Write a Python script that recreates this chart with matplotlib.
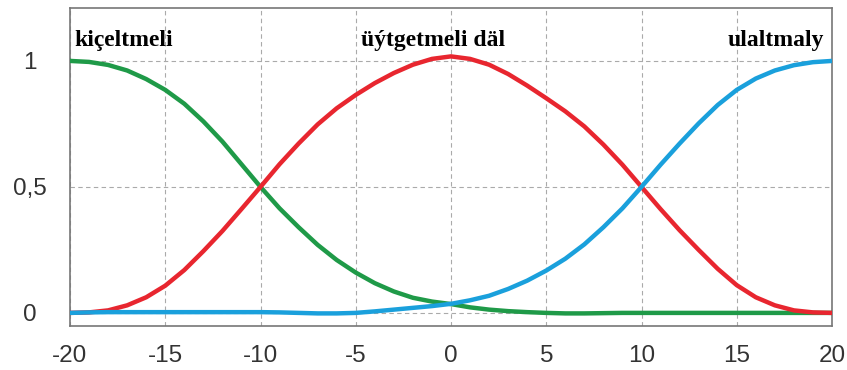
import numpy as np
import matplotlib.pyplot as plt

# x positions (one value per unit)
x = list(range(-20, 21))

# kiçeltmeli (green, decreasing)
kiceltmeli = [1.00, 0.996, 0.984, 0.962, 0.928, 0.885, 0.83, 0.76, 0.68, 0.59,
              0.50, 0.415, 0.34, 0.27, 0.21, 0.16, 0.118, 0.085, 0.06, 0.045,
              0.035, 0.022, 0.013, 0.007, 0.003, 0.0, -0.002, -0.002, -0.001, 0.0,
              0.0, 0.0, 0.0, 0.0, 0.0, 0.0, 0.0, 0.0, 0.0, 0.0, 0.0]

# üýtgetmeli däl (red, bell)
uytgetmeli_dal = [0.0, 0.002, 0.01, 0.03, 0.062, 0.108, 0.17, 0.245, 0.325, 0.412,
                  0.50, 0.59, 0.672, 0.748, 0.812, 0.865, 0.912, 0.952, 0.985, 1.008,
                  1.018, 1.008, 0.985, 0.948, 0.902, 0.852, 0.80, 0.74, 0.668, 0.588,
                  0.50, 0.412, 0.328, 0.25, 0.175, 0.11, 0.062, 0.03, 0.01, 0.002, 0.0]

# ulaltmaly (blue, increasing)
ulaltmaly = [0.0, 0.002, 0.003, 0.003, 0.003, 0.003, 0.003, 0.003, 0.003, 0.003,
             0.003, 0.002, 0.0, -0.002, -0.002, 0.0, 0.006, 0.013, 0.02, 0.027,
             0.036, 0.05, 0.068, 0.095, 0.128, 0.168, 0.215, 0.272, 0.34, 0.415,
             0.50, 0.588, 0.672, 0.752, 0.825, 0.885, 0.93, 0.962, 0.983, 0.995, 1.0]

x_ticks = [-20, -15, -10, -5, 0, 5, 10, 15, 20]
y_ticks = [0, 0.5, 1]
y_labels = ['0', '0,5', '1']

fig = plt.figure(figsize=(8.47, 3.70), dpi=100)
ax = fig.add_axes([70 / 847, 1 - 326 / 370, 762 / 847, 318 / 370])

ax.plot(x, kiceltmeli, color='#1f9a48', lw=3.2, solid_capstyle='round', zorder=3)
ax.plot(x, uytgetmeli_dal, color='#e8262f', lw=3.2, solid_capstyle='round', zorder=3)
ax.plot(x, ulaltmaly, color='#1aa0dc', lw=3.2, solid_capstyle='round', zorder=4)

ax.set_xlim(-20, 20)
ax.set_ylim(-0.052, 1.21)
ax.set_xticks(x_ticks)
ax.set_xticklabels([str(t) for t in x_ticks])
ax.set_yticks(y_ticks)
ax.set_yticklabels(y_labels)

ax.grid(True, ls=(0, (4, 3)), color='#aaaaaa', lw=0.8)
for s in ax.spines.values():
    s.set_color('#777777')
    s.set_linewidth(1.2)

ax.tick_params(axis='both', length=0, labelsize=17.5, labelcolor='#333333')
ax.tick_params(axis='x', pad=14)
ax.tick_params(axis='y', pad=29)
for lab in ax.get_xticklabels() + ax.get_yticklabels():
    lab.set_family('Liberation Sans')
for lab in ax.get_yticklabels():
    lab.set_horizontalalignment('center')

lbl = dict(family='Liberation Serif', weight='bold', fontsize=17, color='black',
           va='center')
ax.text(-19.75, 1.08, 'kiçeltmeli', ha='left', **lbl)
ax.text(-0.95, 1.08, 'üýtgetmeli däl', ha='center', **lbl)
ax.text(19.6, 1.08, 'ulaltmaly', ha='right', **lbl)

fig.savefig('out.png', dpi=100)
